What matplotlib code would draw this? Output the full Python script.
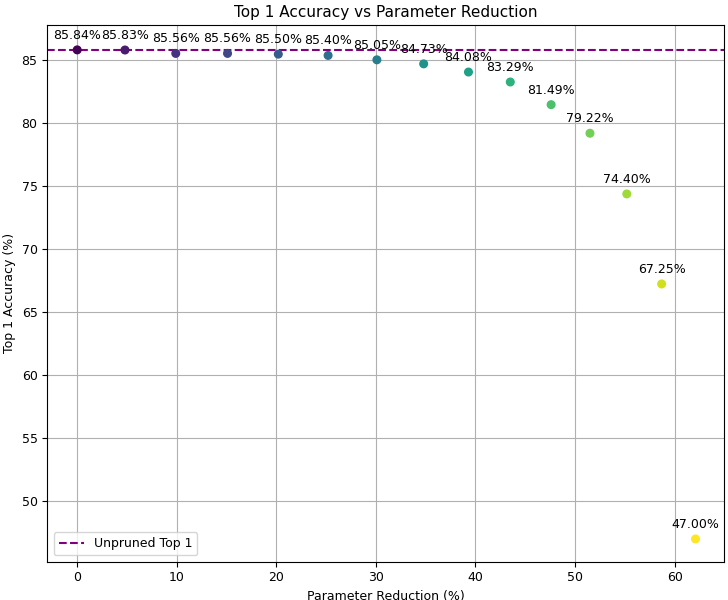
import numpy as np
import matplotlib.pyplot as plt

param_reduction = [0.0, 4.8, 9.9, 15.1, 20.2, 25.2, 30.1, 34.8, 39.3, 43.5, 47.6, 51.5, 55.2, 58.7, 62.1]
top1_acc = [85.84, 85.83, 85.56, 85.56, 85.50, 85.40, 85.05, 84.73, 84.08, 83.29, 81.49, 79.22, 74.40, 67.25, 47.00]
unpruned_top1 = 85.84

plt.rcParams['font.size'] = 9

fig, ax = plt.subplots(figsize=(7.28, 6), dpi=100)
colors = plt.cm.viridis(np.linspace(0, 1, len(param_reduction)))
ax.scatter(param_reduction, top1_acc, c=colors, s=30, zorder=3)
for x, y in zip(param_reduction, top1_acc):
    ax.annotate(f'{y:.2f}%', (x, y), textcoords='offset points', xytext=(0, 8), ha='center')
ax.axhline(unpruned_top1, color='purple', linestyle='--', label='Unpruned Top 1')
ax.set_xlim(-3, 65)
ax.set_ylim(45.2, 87.8)
ax.set_xlabel('Parameter Reduction (%)')
ax.set_ylabel('Top 1 Accuracy (%)')
ax.set_title('Top 1 Accuracy vs Parameter Reduction', fontsize=11)
ax.grid(True)
ax.legend(loc='lower left')
fig.subplots_adjust(left=0.065, right=0.995, top=0.958, bottom=0.064)
fig.savefig('out.png')
